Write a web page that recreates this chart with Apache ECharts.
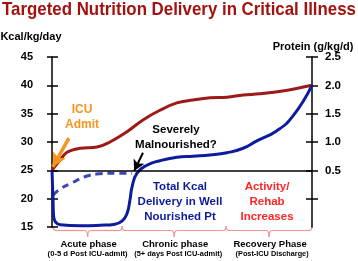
<!DOCTYPE html>
<html>
<head>
<meta charset="utf-8">
<script src="https://cdn.jsdelivr.net/npm/echarts@6/dist/echarts.min.js"></script>
<style>
  html, body { margin: 0; padding: 0; background: #fff; }
  #chart { width: 358px; height: 261px; }
</style>
</head>
<body>
<div id="chart"></div>
<script>
// x runs 0..100 across the whole time span, y in kcal/kg/day
const proteinTicks  = [0, 0.5, 1.0, 1.5, 2.0, 2.5];
const proteinLabels = [0.5, 1.0, 1.5, 2.0, 2.5];

const targetCurve = [
  [0, 25], [3.1, 26.8], [5.8, 28.2], [10.8, 28.9], [17.3, 29.1], [22.3, 30.0],
  [28.8, 31.8], [35, 33.9], [41.5, 35.6], [48, 36.9], [54.2, 37.4], [60.8, 37.8],
  [67.3, 37.9], [73.5, 38.3], [80, 38.5], [90, 39.1], [100, 40]
];
const deliveredCurve = [
  [0, 25], [0.4, 19.8], [0.6, 17.1], [1.3, 15.9], [3.1, 15.4], [10.8, 15.2],
  [18.5, 15.3], [24.2, 15.5], [27, 16.1], [28.8, 17.3], [30, 19.8], [30.8, 22.1],
  [32.7, 24.5], [36.5, 25.9], [41.5, 26.7], [48, 27.3], [54.2, 27.5], [60.8, 27.7],
  [67.3, 28.1], [73.5, 28.9], [78.8, 30.2], [86.5, 32.0], [92.7, 34.6], [100, 40]
];
const malnourishedCurve = [
  [0.4, 20.6], [3.1, 21.7], [7.7, 22.8], [13.5, 24.0], [18.5, 24.4], [24.2, 24.5], [30.8, 24.5]
];
const baselineKcal = 25;

const phaseBounds = [0.4, 27, 67, 100];
const phaseNames  = ["Acute phase", "Chronic phase", "Recovery Phase"];
const phaseNotes  = ["(0-5 d Post ICU-admit)", "(5+ days Post ICU-admit)", "(Post-ICU Discharge)"];

const admitArrow = [[6.5, 30.7], [0.3, 25.6]];
const malnArrow  = [[35, 28.1], [31.6, 24.9]];

const RED = "#9c1a17", NAVY = "#0d1c9c", DASH = "#3c46b4", ORANGE = "#f7941e",
      PINK = "#f39090", ALERT = "#ff2626";
const FONT = '"Liberation Sans", Arial, sans-serif';
const NARROW = '"Liberation Sans Narrow", "DejaVu Sans Condensed", sans-serif';

const chart = echarts.init(document.getElementById("chart"));

const axisBase = {
  type: "value",
  splitLine: { show: false },
  axisLine: { show: true, lineStyle: { color: "#000", width: 1.5 } },
};

chart.setOption({
  animation: false,
  grid: { left: 52, right: 46, top: 57, bottom: 34 },
  xAxis: { type: "value", min: 0, max: 100, show: false },
  yAxis: [
    { ...axisBase, min: 15, max: 45, interval: 5, position: "left",
      axisTick: { show: true, length: 5, lineStyle: { color: "#000", width: 1.5 } },
      axisLabel: { color: "#000", fontWeight: "bold", fontSize: 11, fontFamily: FONT, margin: 19 } },
    { ...axisBase, min: 15, max: 45, interval: 5, position: "left",
      axisLine: { show: false },
      axisTick: { show: true, inside: true, length: 6, lineStyle: { color: "#000", width: 1.5 } },
      axisLabel: { show: false } },
    { ...axisBase, min: -0.5, max: 2.5, interval: 0.5, position: "right",
      axisTick: { show: true, length: 6, customValues: proteinTicks, lineStyle: { color: "#000", width: 1.5 } },
      axisLabel: { color: "#000", fontWeight: "bold", fontSize: 11.5, fontFamily: FONT, margin: 13,
        customValues: proteinLabels, formatter: v => v.toFixed(1) } },
    { ...axisBase, min: -0.5, max: 2.5, interval: 0.5, position: "right",
      axisLine: { show: false },
      axisTick: { show: true, inside: true, length: 6, customValues: proteinTicks, lineStyle: { color: "#000", width: 1.5 } },
      axisLabel: { show: false } },
  ],
  series: [
    { type: "line", data: malnourishedCurve, smooth: 0.4, symbol: "none",
      lineStyle: { color: DASH, width: 3, type: [7, 5] } },
    { type: "line", data: targetCurve, smooth: 0.4, symbol: "none",
      lineStyle: { color: RED, width: 3 },
      markLine: {
        silent: true, symbol: "none", label: { show: false },
        lineStyle: { color: "#000", width: 1.5, type: "solid" },
        data: [{ yAxis: baselineKcal }]
      } },
    { type: "line", data: deliveredCurve, smooth: 0.5, symbol: "none",
      lineStyle: { color: NAVY, width: 3 } },
    { type: "line", data: [], markLine: {
        silent: true, label: { show: false },
        data: [
          [{ coord: admitArrow[0], symbol: "none",
             lineStyle: { color: ORANGE, width: 3.5, type: "solid" } },
           { coord: admitArrow[1], symbol: "arrow", symbolSize: [11, 14] }],
          [{ coord: malnArrow[0], symbol: "none",
             lineStyle: { color: "#000", width: 2, type: "solid" } },
           { coord: malnArrow[1], symbol: "arrow", symbolSize: [9, 11] }],
        ]
      } },
  ],
});

// squeeze a text to a given width (the original uses a condensed face)
const ctx = document.createElement("canvas").getContext("2d");
function fitScale(text, font, width) {
  ctx.font = font;
  return Math.min(1, width / ctx.measureText(text).width);
}

function txt(x, y, text, size, color, width) {
  const font = `bold ${size}px ${FONT}`;
  return {
    type: "text", x, y, silent: true,
    scaleX: width ? fitScale(text, font, width) : 1,
    style: { text, x: 0, y: 0, fill: color, align: "center", verticalAlign: "middle",
      textAlign: "center", textVerticalAlign: "middle",
      font, lineHeight: size + 3.5 }
  };
}
const braceStyle = { stroke: PINK, lineWidth: 1.2, fill: null };
const curve = (x1, y1, cx, cy, x2, y2) => ({ type: "bezierCurve", silent: true,
  shape: { x1, y1, cpx1: cx, cpy1: cy, x2, y2 }, style: braceStyle });
const seg = (x1, y1, x2, y2) => ({ type: "line", silent: true,
  shape: { x1, y1, x2, y2 }, style: braceStyle });

// braces and phase labels under the time axis
const px = v => chart.convertToPixel({ xAxisIndex: 0 }, v);
const yTop = 226, yMid = 230.5, yTip = 237;
const noteShift = [0, 4, 3], noteWidth = [80, 88, 73];
const graphics = [];
for (let i = 0; i < phaseNames.length; i++) {
  const a = px(phaseBounds[i]), b = px(phaseBounds[i + 1]), c = (a + b) / 2, r = 3;
  graphics.push(
    curve(a, yTop, a, yMid, a + r, yMid),
    seg(a + r, yMid, c - r, yMid),
    curve(c - r, yMid, c, yMid, c, yTip),
    curve(c, yTip, c, yMid, c + r, yMid),
    seg(c + r, yMid, b - r, yMid),
    curve(b - r, yMid, b, yMid, b, yTop)
  );
  graphics.push(txt(c + 1, 244, phaseNames[i], 9.5, "#000"));
  graphics.push(txt(c + noteShift[i], 254, phaseNotes[i], 8, "#000", noteWidth[i]));
}

const titleText = "Targeted Nutrition Delivery in Critical Illness";
const titleFont = `bold 19px ${FONT}`;
graphics.push(
  { type: "text", x: 179, y: 10, scaleX: fitScale(titleText, titleFont, 354), silent: true,
    style: { text: titleText, x: 0, y: 0, fill: "#a3120e",
      align: "center", verticalAlign: "middle", textAlign: "center", textVerticalAlign: "middle",
      font: titleFont } },
  txt(31, 37, "Kcal/kg/day", 11, "#000"),
  txt(313, 47, "Protein (g/kg/d)", 11, "#000"),
  txt(82, 117, "ICU\nAdmit", 12, ORANGE),
  txt(176, 137, "Severely\nMalnourished?", 11.5, "#000"),
  txt(180, 202, "Total Kcal\nDelivery in Well\nNourished Pt", 11.5, NAVY),
  txt(267, 202, "Activity/\nRehab\nIncreases", 11.5, ALERT)
);

chart.setOption({ graphic: graphics });
</script>
</body>
</html>
